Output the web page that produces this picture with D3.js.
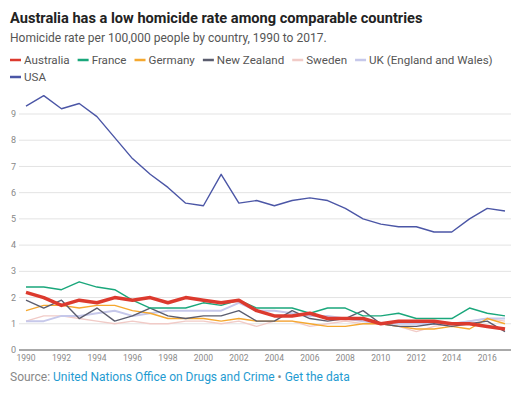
<!DOCTYPE html>
<meta charset='utf-8'>
<body style='margin:0;background:#fff'>
<script src='https://d3js.org/d3.v7.min.js'></script>
<script>
  // homicide rate per 100,000, 1990-2017
  const years = d3.range(1990, 2018);
  const australia = [2.2, 2.0, 1.7, 1.9, 1.8, 2.0, 1.9, 2.0, 1.8, 2.0, 1.9, 1.8, 1.9, 1.5, 1.3, 1.3, 1.4, 1.2, 1.2, 1.2, 1.0, 1.1, 1.1, 1.1, 1.0, 1.0, 0.9, 0.8];
  const france = [2.4, 2.4, 2.3, 2.6, 2.4, 2.3, 1.9, 1.6, 1.6, 1.6, 1.8, 1.7, 1.9, 1.6, 1.6, 1.6, 1.4, 1.6, 1.6, 1.3, 1.3, 1.4, 1.2, 1.2, 1.2, 1.6, 1.4, 1.3];
  const germany = [1.5, 1.7, 1.7, 1.6, 1.7, 1.7, 1.5, 1.4, 1.2, 1.2, 1.2, 1.1, 1.2, 1.1, 1.1, 1.1, 1.0, 0.9, 0.9, 1.0, 1.0, 0.9, 0.8, 0.8, 0.9, 0.8, 1.2, 1.0];
  const newZealand = [1.9, 1.6, 1.9, 1.2, 1.6, 1.1, 1.3, 1.6, 1.3, 1.2, 1.3, 1.3, 1.5, 1.1, 1.1, 1.5, 1.2, 1.1, 1.2, 1.5, 1.0, 0.9, 0.9, 1.0, 0.9, 1.0, 1.1, 0.7];
  const sweden = [1.1, 1.3, 1.3, 1.2, 1.1, 1.0, 1.1, 1.0, 1.0, 1.1, 1.1, 1.0, 1.1, 0.9, 1.1, 1.1, 0.9, 1.0, 1.1, 1.0, 1.0, 0.9, 0.7, 0.9, 1.0, 1.1, 1.2, 1.1];
  const uk = [1.1, 1.1, 1.3, 1.3, 1.4, 1.5, 1.3, 1.4, 1.5, 1.5, 1.5, 1.5, 1.8, 1.5, 1.5, 1.4, 1.3, 1.3, 1.2, 1.1, 1.0, 1.0, 1.0, 1.0, 1.0, 1.1, 1.2, 1.2];
  const usa = [9.3, 9.7, 9.2, 9.4, 8.9, 8.1, 7.3, 6.7, 6.2, 5.6, 5.5, 6.7, 5.6, 5.7, 5.5, 5.7, 5.8, 5.7, 5.4, 5.0, 4.8, 4.7, 4.7, 4.5, 4.5, 5.0, 5.4, 5.3];

  const yTicks = [0, 1, 2, 3, 4, 5, 6, 7, 8, 9];
  const xTicks = d3.range(1990, 2017, 2);

  const series = [
    { name: 'Australia', values: australia, color: '#dc3a2e', width: 3.5 },
    { name: 'France', values: france, color: '#1aa77b', width: 1.4 },
    { name: 'Germany', values: germany, color: '#f5a82f', width: 1.4 },
    { name: 'New Zealand', values: newZealand, color: '#5b5d6e', width: 1.4 },
    { name: 'Sweden', values: sweden, color: '#f1cbc7', width: 1.4 },
    { name: 'UK (England and Wales)', values: uk, color: '#c6c8ea', width: 2 },
    { name: 'USA', values: usa, color: '#4b56a6', width: 1.4 }
  ];

  const W = 518, H = 399;
  const font = 'Roboto, sans-serif';

  const svg = d3.select('body').append('svg')
    .attr('width', W)
    .attr('height', H)
    .style('font-family', font);

  svg.append('text')
    .attr('x', 10).attr('y', 23)
    .attr('font-size', 14.6).attr('font-weight', 700).attr('fill', '#222')
    .text('Australia has a low homicide rate among comparable countries');

  svg.append('text')
    .attr('x', 10).attr('y', 42)
    .attr('font-size', 12).attr('fill', '#555')
    .text('Homicide rate per 100,000 people by country, 1990 to 2017.');

  // legend, wraps onto a second row
  const legend = svg.append('g');
  let lx = 10, ly = 60;
  series.forEach(s => {
    const g = legend.append('g').attr('transform', `translate(${lx},${ly})`);
    g.append('line')
      .attr('x1', 0).attr('x2', 11)
      .attr('stroke', s.color).attr('stroke-width', 2.5);
    const t = g.append('text')
      .attr('x', 14).attr('dy', '0.35em')
      .attr('font-size', 11.6).attr('fill', '#555')
      .text(s.name);
    const w = 14 + t.node().getComputedTextLength() + 8;
    lx += w;
    if (lx > 470) { lx = 10; ly += 17; }
  });

  const x = d3.scaleLinear().domain([1990, 2017]).range([26, 505]);
  const y = d3.scaleLinear().domain([0, 9]).range([350, 114]);

  // gridlines
  svg.append('g')
    .selectAll('line')
    .data(yTicks.filter(d => d > 0))
    .join('line')
      .attr('x1', 19).attr('x2', 511)
      .attr('y1', d => y(d)).attr('y2', d => y(d))
      .attr('stroke', '#e3e3e3');

  svg.append('line')
    .attr('x1', 19).attr('x2', 511)
    .attr('y1', y(0)).attr('y2', y(0))
    .attr('stroke', '#555');

  svg.append('g')
    .selectAll('text')
    .data(yTicks)
    .join('text')
      .attr('x', 16).attr('y', d => y(d))
      .attr('dy', '0.35em')
      .attr('text-anchor', 'end')
      .attr('font-size', 9).attr('fill', '#888')
      .text(d => d);

  svg.append('g')
    .selectAll('text')
    .data(xTicks)
    .join('text')
      .attr('x', d => x(d)).attr('y', 361)
      .attr('text-anchor', 'middle')
      .attr('font-size', 8.5).attr('fill', '#888')
      .text(d => d);

  const line = d3.line()
    .x((d, i) => x(years[i]))
    .y(d => y(d));

  // draw thin ones first, Australia on top
  const order = ['Sweden', 'UK (England and Wales)', 'Germany', 'New Zealand', 'France', 'USA', 'Australia'];
  order.forEach(n => {
    const s = series.find(d => d.name === n);
    svg.append('path')
      .datum(s.values)
      .attr('d', line)
      .attr('fill', 'none')
      .attr('stroke', s.color)
      .attr('stroke-width', s.width)
      .attr('stroke-linejoin', 'round');
  });

  const src = svg.append('text')
    .attr('x', 10).attr('y', 381)
    .attr('font-size', 12).attr('fill', '#888');
  src.append('tspan').text('Source: ');
  src.append('tspan').attr('fill', '#1f9bd1').text('United Nations Office on Drugs and Crime');
  src.append('tspan').text(' • ');
  src.append('tspan').attr('fill', '#1f9bd1').text('Get the data');
</script>
